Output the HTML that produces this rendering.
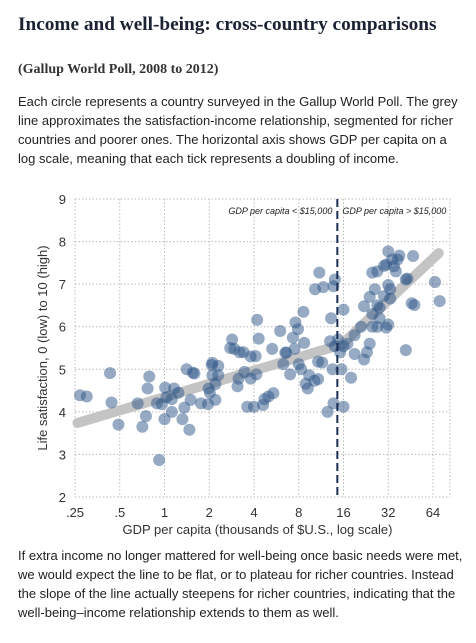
<!DOCTYPE html>
<html><head><meta charset="utf-8"><style>
body{margin:0;width:476px;height:643px;background:#fff;overflow:hidden;font-family:"Liberation Sans",sans-serif;position:relative}
.t{position:absolute;left:18px;margin:0}
#title{top:14px;font:bold 19.3px "Liberation Serif",serif;color:#1a2233;white-space:nowrap}
#sub{top:62px;font:bold 14px "Liberation Serif",serif;color:#333;white-space:nowrap}
.p{font-size:13px;line-height:19px;color:#222;white-space:nowrap}
#p1{top:92px}
#p2{top:546px}
svg{position:absolute;left:0;top:180px}
</style></head><body>
<h1 class="t" id="title">Income and well-being: cross-country comparisons</h1>
<div class="t" id="sub">(Gallup World Poll, 2008 to 2012)</div>
<p class="t p" id="p1">Each circle represents a country surveyed in the Gallup World Poll. The grey<br>line approximates the satisfaction-income relationship, segmented for richer<br>countries and poorer ones. The horizontal axis shows GDP per capita on a<br>log scale, meaning that each tick represents a doubling of income.</p>
<svg id="chart" width="476" height="360"></svg>
<p class="t p" id="p2">If extra income no longer mattered for well-being once basic needs were met,<br>we would expect the line to be flat, or to plateau for richer countries. Instead<br>the slope of the line actually steepens for richer countries, indicating that the<br>well-being–income relationship extends to them as well.</p>
<script>
const xTicks=[0.25,0.5,1,2,4,8,16,32,64];
const xTickLabels=[".25",".5","1","2","4","8","16","32","64"];
const yTicks=[2,3,4,5,6,7,8,9];
const gdp=[0.27,0.30,0.43,0.44,0.49,0.66,0.71,0.75,0.77,0.79,0.92,0.89,0.96,1.0,1.01,1.03,1.12,1.12,1.16,1.24,1.32,1.36,1.41,1.47,1.5,1.55,1.59,1.76,1.96,1.98,2.02,2.08,2.1,2.1,2.2,2.2,2.3,2.3,2.85,2.77,2.95,3.1,3.15,3.2,3.4,3.45,3.6,3.8,3.8,4.2,4.3,4.1,4.15,4.0,4.7,4.6,5.4,5.0,5.3,6.0,6.3,6.5,6.6,7.0,7.3,7.5,7.6,7.9,8.6,8.7,8.0,8.3,8.9,9.2,9.4,10.2,10.8,10.8,11.5,10.3,11,11.7,12.5,13.2,13.5,13.7,14,13.7,13,14,14.7,15.2,15.5,16,16,16,17,18,19,19,21,22,23,24,22,24,25,27,26,25,25,27,28,27,28,30,31,32,32,33,31,32,34,35,36,37,38,42,43,47,42,46,48,33,66,71,30];
const sat=[4.39,4.36,4.91,4.22,3.7,4.2,3.65,3.9,4.55,4.83,2.87,4.2,4.18,3.83,4.57,4.34,4.0,4.3,4.55,4.45,3.83,4.1,5.0,3.58,4.28,4.92,4.9,4.2,4.18,4.55,4.45,5.1,5.15,4.86,4.28,4.65,5.08,4.86,5.7,5.5,5.48,4.6,4.78,5.4,5.4,4.94,4.12,5.3,4.78,6.16,5.72,5.31,4.88,4.12,4.3,4.16,4.44,4.36,5.48,5.9,5.12,5.39,5.39,4.88,5.74,5.48,6.1,5.94,6.35,5.62,5.12,5.0,4.66,4.55,4.86,4.73,4.77,5.18,5.16,6.88,7.27,6.93,4.0,6.2,5.0,4.2,7.11,6.95,5.66,5.54,5.7,5.4,5.0,6.4,4.12,5.54,5.6,4.8,5.8,5.36,6.0,5.23,5.4,5.6,6.48,6.7,7.27,7.3,6.88,6.3,6.0,6.0,6.2,6.5,6.45,6.72,5.98,6.05,6.98,6.88,7.46,7.77,7.58,7.42,7.3,7.58,7.67,7.11,7.13,7.66,5.45,6.55,6.51,6.66,7.05,6.6,7.43];
const trendX=[0.26,15.5,70];
const trendY=[3.74,5.58,7.73];
const cutoff=15;
const NS="http://www.w3.org/2000/svg";
const svg=document.getElementById('chart');
const OY=180;
const L=75,R=450,T=199-OY,B=497-OY;
const xs=v=>L+(Math.log2(v)+2)*44.75;
const ys=v=>B-(v-2)*(B-T)/7;
function mk(tag,a){const e=document.createElementNS(NS,tag);for(const k in a)e.setAttribute(k,a[k]);svg.appendChild(e);return e;}
yTicks.forEach(v=>{
  const l=mk('line',{x1:L,x2:R,y1:ys(v),y2:ys(v),stroke:'#bbb','stroke-dasharray':'1.5,2'});
  
  
  const t=mk('text',{x:66,y:ys(v)+5,'text-anchor':'end','font-size':13,fill:'#333','font-family':'Liberation Sans'});
  t.textContent=v;
  
  
});
xTicks.forEach((v,i)=>{
  const l=mk('line',{x1:xs(v),x2:xs(v),y1:T,y2:B,stroke:'#bbb','stroke-dasharray':'1.5,2'});
  
  
  const t=mk('text',{x:xs(v),y:B+20,'text-anchor':'middle','font-size':13,fill:'#333','font-family':'Liberation Sans'});
  t.textContent=xTickLabels[i];
  
  
});
const rl=mk('line',{x1:R,x2:R,y1:T,y2:B,stroke:'#bbb','stroke-dasharray':'1.5,2'});


const tr=mk('polyline',{points:trendX.map((x,i)=>xs(x)+','+ys(trendY[i])).join(' '),fill:'none',stroke:'#c4c4c4','stroke-width':10,'stroke-linecap':'round','stroke-linejoin':'round'});


gdp.forEach((g,i)=>{
  const c=mk('circle',{cx:xs(g),cy:ys(sat[i]),r:6,fill:'rgba(45,85,135,0.5)'});
  
  
});
const dl=mk('line',{x1:xs(cutoff)-2,x2:xs(cutoff)-2,y1:T,y2:B,stroke:'#1b2f55','stroke-width':2,'stroke-dasharray':'8,4'});


const a1=mk('text',{x:xs(cutoff)-7,y:T+15,'text-anchor':'end','font-size':9,'font-style':'italic',fill:'#222','font-family':'Liberation Sans'});
a1.textContent='GDP per capita < $15,000';


const a2=mk('text',{x:xs(cutoff)+3,y:T+15,'font-size':9,'font-style':'italic',fill:'#222','font-family':'Liberation Sans'});
a2.textContent='GDP per capita > $15,000';


const xt=mk('text',{x:(L+R)/2-5,y:B+37,'text-anchor':'middle','font-size':13,fill:'#333','font-family':'Liberation Sans'});
xt.textContent='GDP per capita (thousands of $U.S., log scale)';


const yt=mk('text',{x:0,y:0,'text-anchor':'middle','font-size':13,fill:'#333','font-family':'Liberation Sans',transform:'translate(47,'+((T+B)/2)+') rotate(-90)'});
yt.textContent='Life satisfaction, 0 (low) to 10 (high)';


</script>
</body></html>
